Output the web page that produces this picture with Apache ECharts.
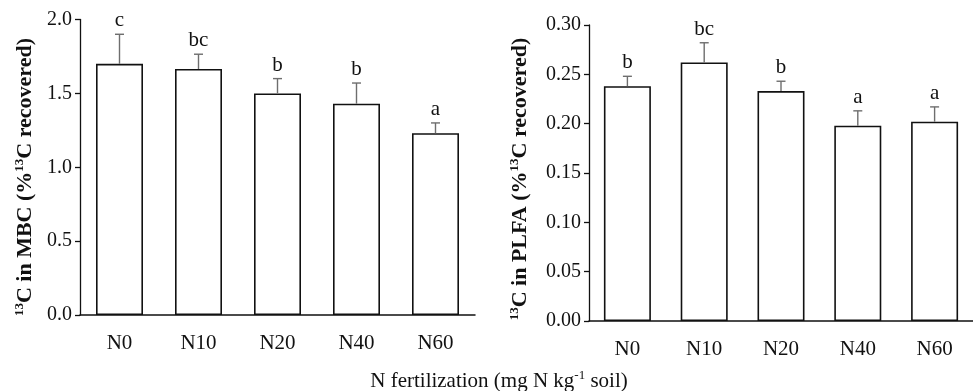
<!DOCTYPE html>
<html>
<head>
<meta charset="utf-8">
<script src="https://cdn.jsdelivr.net/npm/echarts@6/dist/echarts.min.js"></script>
<style>
  html, body { margin: 0; padding: 0; background: #fff; }
  #chart { width: 973px; height: 391px; }
</style>
</head>
<body>
<div id="chart"></div>
<script>
// treatments
var categories = ['N0', 'N10', 'N20', 'N40', 'N60']

// 13C in microbial biomass C
var mbcMean = [1.70, 1.665, 1.50, 1.43, 1.23]
var mbcErr = [0.20, 0.10, 0.10, 0.14, 0.07]
var mbcLetters = ['c', 'bc', 'b', 'b', 'a']

// 13C in PLFA
var plfaMean = [0.238, 0.262, 0.233, 0.198, 0.202]
var plfaErr = [0.010, 0.020, 0.010, 0.015, 0.015]
var plfaLetters = ['b', 'bc', 'b', 'a', 'a']

var serif = '"Liberation Serif", "Times New Roman", serif'

function errorBars(means, errs, letters) {
  return function (params, api) {
    var i = params.dataIndex
    var base = api.coord([i, means[i]])
    var top = api.coord([i, means[i] + errs[i]])
    var cap = 4.5
    var lineStyle = { stroke: '#6e6e6e', lineWidth: 1.4 }
    return {
      type: 'group',
      children: [
        { type: 'line', shape: { x1: base[0], y1: base[1], x2: top[0], y2: top[1] }, style: lineStyle },
        { type: 'line', shape: { x1: top[0] - cap, y1: top[1], x2: top[0] + cap, y2: top[1] }, style: lineStyle },
        {
          type: 'text',
          x: top[0], y: top[1] - 3,
          style: {
            text: letters[i], fill: '#111', font: '21px ' + serif,
            align: 'center', verticalAlign: 'bottom'
          }
        }
      ]
    }
  }
}

function xAxisCfg(gridIndex) {
  return {
    type: 'category',
    gridIndex: gridIndex,
    data: categories,
    axisLine: { lineStyle: { color: '#111', width: 1.5 } },
    axisTick: { alignWithLabel: true, length: 5, lineStyle: { color: '#777', width: 1.3 } },
    axisLabel: { color: '#111', fontSize: 21, fontFamily: serif, margin: 18 }
  }
}

function yAxisCfg(gridIndex, max, interval, digits) {
  return {
    type: 'value',
    gridIndex: gridIndex,
    min: 0,
    max: max,
    interval: interval,
    splitLine: { show: false },
    axisLine: { show: true, lineStyle: { color: '#111', width: 1.3 } },
    axisTick: { show: true, length: 5, lineStyle: { color: '#111', width: 1.3 } },
    axisLabel: {
      color: '#111', fontSize: 20, fontFamily: serif, margin: 8,
      formatter: function (v) { return v.toFixed(digits) }
    }
  }
}

var titleRich = {
  b: { fontSize: 22, fontWeight: 'bold', fontFamily: serif, fill: '#111', lineHeight: 24 },
  sup: { fontSize: 13, fontWeight: 'bold', fontFamily: serif, fill: '#111', verticalAlign: 'top', lineHeight: 24 },
  t: { fontSize: 21, fontFamily: serif, fill: '#111', lineHeight: 24 },
  tsup: { fontSize: 13, fontFamily: serif, fill: '#111', verticalAlign: 'top', lineHeight: 24 }
}

var chart = echarts.init(document.getElementById('chart'))
chart.setOption({
  animation: false,
  grid: [
    { left: 80, width: 395, top: 19.5, bottom: 76 },
    { left: 589, width: 395, top: 25, bottom: 70 }
  ],
  xAxis: [xAxisCfg(0), xAxisCfg(1)],
  yAxis: [yAxisCfg(0, 2, 0.5, 1), yAxisCfg(1, 0.3, 0.05, 2)],
  series: [
    {
      type: 'bar', xAxisIndex: 0, yAxisIndex: 0, data: mbcMean, barWidth: 47,
      itemStyle: { color: '#fff', borderColor: '#111', borderWidth: 1.6 }
    },
    {
      type: 'custom', xAxisIndex: 0, yAxisIndex: 0, data: mbcMean, z: 5,
      renderItem: errorBars(mbcMean, mbcErr, mbcLetters)
    },
    {
      type: 'bar', xAxisIndex: 1, yAxisIndex: 1, data: plfaMean, barWidth: 47,
      itemStyle: { color: '#fff', borderColor: '#111', borderWidth: 1.6 }
    },
    {
      type: 'custom', xAxisIndex: 1, yAxisIndex: 1, data: plfaMean, z: 5,
      renderItem: errorBars(plfaMean, plfaErr, plfaLetters)
    }
  ],
  graphic: [
    {
      type: 'text', x: 25, y: 177, rotation: Math.PI / 2,
      style: {
        text: '{sup|13}{b|C in MBC (%}{sup|13}{b|C recovered)}',
        rich: titleRich, align: 'center', verticalAlign: 'middle'
      }
    },
    {
      type: 'text', x: 520, y: 179, rotation: Math.PI / 2,
      style: {
        text: '{sup|13}{b|C in PLFA (%}{sup|13}{b|C recovered)}',
        rich: titleRich, align: 'center', verticalAlign: 'middle'
      }
    },
    {
      type: 'text', x: 499, y: 381,
      style: {
        text: '{t|N fertilization (mg N kg}{tsup|-1}{t| soil)}',
        rich: titleRich, align: 'center', verticalAlign: 'middle'
      }
    }
  ]
})
</script>
</body>
</html>
